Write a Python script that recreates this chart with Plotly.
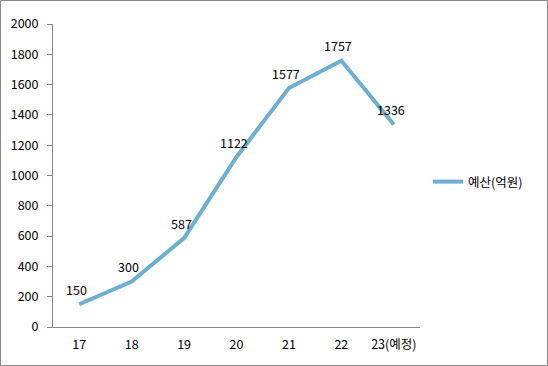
import plotly.graph_objects as go

categories = ["17", "18", "19", "20", "21", "22", "23(예정)"]
values = [150, 300, 587, 1122, 1577, 1757, 1336]
series_name = "예산(억원)"

W, H = 548, 366
L, R, T, B = 53, 128, 24, 39
pw, ph = W - L - R, H - T - B

fig = go.Figure()
fig.add_trace(go.Scatter(
    x=categories, y=values, mode="lines", name=series_name,
    line=dict(color="#6DAED3", width=4),
))
for i, v in enumerate(values):
    fig.add_annotation(x=i, y=v, text=str(v), showarrow=False,
                       xshift=-3, yshift=15, font=dict(size=12.5, color="#000000"))

fig.update_layout(
    width=W, height=H,
    margin=dict(l=L, r=R, t=T, b=B, autoexpand=False),
    paper_bgcolor="white", plot_bgcolor="white",
    font=dict(family="Noto Sans CJK KR, DejaVu Sans, sans-serif", size=12.5, color="#000000"),
    showlegend=True,
    legend=dict(x=(428 - L) / pw, y=(H - B - 182) / ph, xanchor="left", yanchor="middle",
                font=dict(size=12.5), bgcolor="rgba(0,0,0,0)", itemwidth=30),
    xaxis=dict(type="category", showgrid=False, showline=True, linecolor="#888888",
               linewidth=1, ticks="", zeroline=False, range=[-0.5, 6.5],
               ticklabelstandoff=6),
    yaxis=dict(range=[0, 2000], dtick=200, showgrid=False, showline=True,
               linecolor="#888888", linewidth=1, ticks="outside", ticklen=5,
               tickcolor="#888888", zeroline=False, ticklabelstandoff=6),
    shapes=[dict(type="rect", xref="paper", yref="paper",
                 x0=(-L + 0.5) / pw, x1=(W - L - 0.5) / pw,
                 y0=(-B + 0.5) / ph, y1=(H - B - 0.5) / ph,
                 line=dict(color="#888888", width=1), fillcolor="rgba(0,0,0,0)")],
)

fig.write_html("out.html", config={"displayModeBar": False},
               post_script="document.body.style.margin='0';")
